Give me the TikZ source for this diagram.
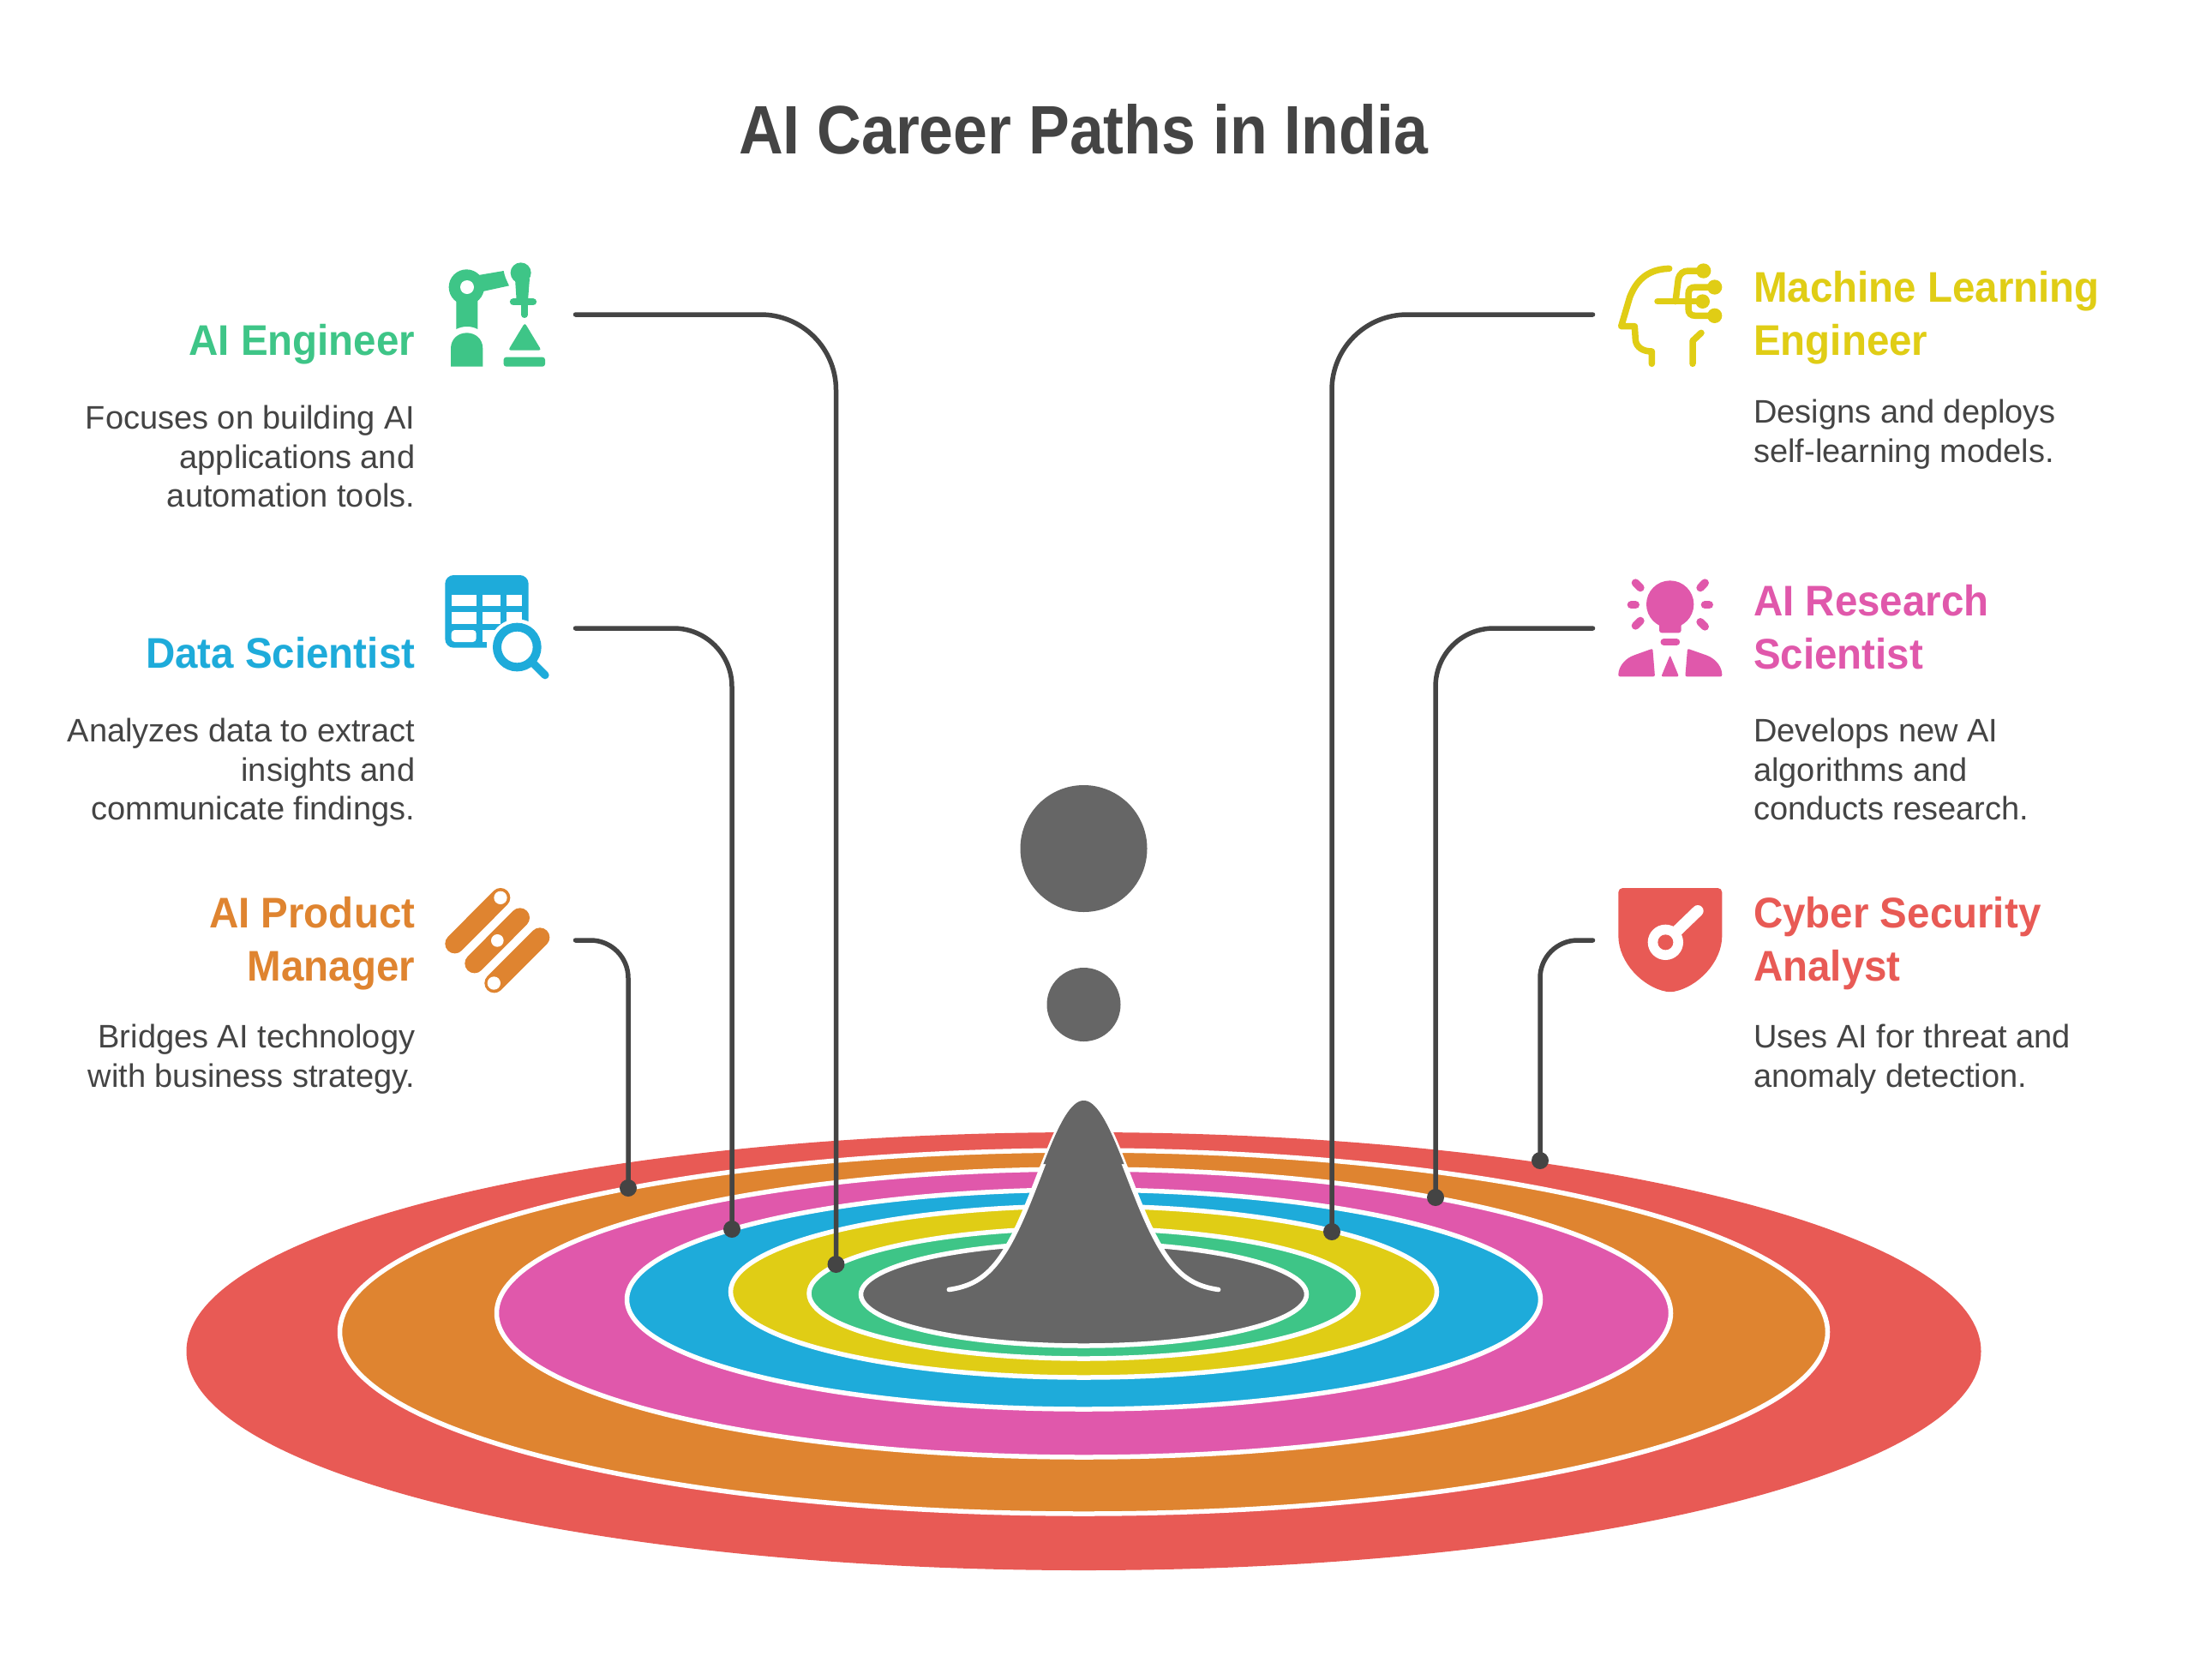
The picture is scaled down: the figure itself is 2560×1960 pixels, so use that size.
\documentclass[tikz,border=0pt]{standalone}
\usepackage{fontspec}
\setmainfont{Liberation Sans}
\newfontfamily\headfont[FakeStretch=0.95]{Liberation Sans}
\newfontfamily\titlefont[FakeStretch=0.895]{Liberation Sans}
\definecolor{cred}{HTML}{E85A55}
\definecolor{corange}{HTML}{DF8430}
\definecolor{cpink}{HTML}{E058AB}
\definecolor{cblue}{HTML}{1EABDA}
\definecolor{cyellow}{HTML}{E0CD15}
\definecolor{cgreen}{HTML}{3EC587}
\definecolor{cgray}{HTML}{666666}
\definecolor{cdark}{HTML}{444444}
\tikzset{
  ring/.style={fill=#1,draw=white,line width=5.5pt},
  conn/.style={draw=cdark,line width=5.5pt,line cap=round},
  dotnode/.style={circle,fill=cdark,minimum size=20pt,inner sep=0pt},
  headl/.style={font=\fontsize{50}{62}\selectfont\headfont\bfseries,align=right,anchor=north east,inner sep=0pt,text=#1,execute at begin node={\rule{0pt}{50pt}}},
  headr/.style={font=\fontsize{50}{62}\selectfont\headfont\bfseries,align=left,anchor=north west,inner sep=0pt,text=#1,execute at begin node={\rule{0pt}{50pt}}},
  bodyl/.style={font=\fontsize{38}{45.5}\selectfont,align=right,anchor=north east,inner sep=0pt,text=cdark,execute at begin node={\rule{0pt}{40pt}}},
  bodyr/.style={font=\fontsize{38}{45.5}\selectfont,align=left,anchor=north west,inner sep=0pt,text=cdark,execute at begin node={\rule{0pt}{40pt}}},
  icon/.style={x=0.33333pt,y=-0.33333pt}
}
\begin{document}
\begin{tikzpicture}[x=1pt,y=-1pt]
\useasboundingbox[fill=white] (0,0) rectangle (2560,1960);
% rings
\fill[cred] (1264.5,1576.5) ellipse [x radius=1047,y radius=255.5];
\draw[ring=corange] (1264.5,1554) ellipse [x radius=868,y radius=212];
\draw[ring=cpink] (1264.5,1532) ellipse [x radius=685,y radius=168];
\draw[ring=cblue] (1264.5,1516) ellipse [x radius=533,y radius=128];
\draw[ring=cyellow] (1264.5,1507) ellipse [x radius=412,y radius=100];
\draw[ring=cgreen] (1264.5,1509) ellipse [x radius=320.5,y radius=76];
\draw[ring=cgray] (1264.5,1510) ellipse [x radius=260,y radius=60];
% bell
\fill[cgray] plot[domain=-3:3,samples=90,smooth] ({1264.5+52.4*\x},{1507-223*exp(-\x*\x/2)});
\draw[white,line width=5.5pt,line cap=round] plot[domain=-3:3,samples=90,smooth] ({1264.5+52.4*\x},{1507-223*exp(-\x*\x/2)});
\fill[cgray] plot[domain=-0.9:0.9,samples=40,smooth] ({1264.5+52.4*\x},{1507-223*exp(-\x*\x/2)});
% drops
\node[circle,fill=cgray,minimum size=148pt,inner sep=0pt] (drop1) at (1264.5,990) {};
\node[circle,fill=cgray,minimum size=86pt,inner sep=0pt] (drop2) at (1264.5,1172) {};
% title
\node[font=\fontsize{80}{90}\selectfont\titlefont\bfseries,text=cdark,anchor=base,inner sep=0pt] (title) at (1264,179.5) {AI Career Paths in India};
% connector ends
\coordinate (s1) at (671.5,367);
\coordinate (s2) at (671.5,733);
\coordinate (s3) at (671.5,1097);
\coordinate (s4) at (1858.5,367);
\coordinate (s5) at (1858.5,733);
\coordinate (s6) at (1858.5,1097);
\node[dotnode] (d1) at (975.5,1475) {};
\node[dotnode] (d2) at (854,1434) {};
\node[dotnode] (d3) at (733,1386) {};
\node[dotnode] (d4) at (1554,1437) {};
\node[dotnode] (d5) at (1675,1397) {};
\node[dotnode] (d6) at (1797,1354) {};
\draw[conn,rounded corners=88pt] (s1) -| (d1.center);
\draw[conn,rounded corners=68pt] (s2) -| (d2.center);
\draw[conn,rounded corners=44pt] (s3) -| (d3.center);
\draw[conn,rounded corners=88pt] (s4) -| (d4.center);
\draw[conn,rounded corners=68pt] (s5) -| (d5.center);
\draw[conn,rounded corners=44pt] (s6) -| (d6.center);
% left text
\node[headl=cgreen] (h1) at (484.5,364) {AI Engineer};
\node[bodyl] (b1) at (484.5,473) {Focuses on building AI\\applications and\\automation tools.};
\node[headl=cblue] (h2) at (484.5,729) {Data Scientist};
\node[bodyl] (b2) at (484.5,838) {Analyzes data to extract\\insights and\\communicate findings.};
\node[headl=corange] (h3) at (484.5,1046) {AI Product\\Manager};
\node[bodyl] (b3) at (484.5,1195) {Bridges AI technology\\with business strategy.};
% right text
\node[headr=cyellow] (h4) at (2046,316.5) {Machine Learning\\Engineer};
\node[bodyr] (b4) at (2046,466) {Designs and deploys\\self-learning models.};
\node[headr=cpink] (h5) at (2046,682) {AI Research\\Scientist};
\node[bodyr] (b5) at (2046,838) {Develops new AI\\algorithms and\\conducts research.};
\node[headr=cred] (h6) at (2046,1046) {Cyber Security\\Analyst};
\node[bodyr] (b6) at (2046,1195) {Uses AI for threat and\\anomaly detection.};
% robot icon
\begin{scope}[shift={(500,290)},icon]
\fill[cgreen] (175,93) -- (263,78) .. controls (268,100) .. (282,130) -- (190,150) -- cycle;
\fill[cgreen] (97,170) -- (97,282) .. controls (120,270) and (150,270) .. (172,282) -- (172,170) -- cycle;
\fill[cgreen] (133,135) circle [radius=62];
\fill[white] (135,135) circle [radius=24];
\fill[cgreen] (78,413) -- (78,350) .. controls (78,315) and (105,295) .. (134,295) .. controls (163,295) and (190,315) .. (190,350) -- (190,413) -- cycle;
\fill[cgreen] (323,85) circle [radius=36];
\fill[cgreen] (303,105) -- (308,182) -- (348,182) -- (354,105) -- cycle;
\draw[cgreen,line width=8.3pt,line cap=round] (297,187) -- (366,187);
\draw[cgreen,line width=7.3pt,line cap=round] (336,190) -- (336,232);
\fill[cgreen,rounded corners=3pt] (337,260) -- (395,356) -- (279,356) -- cycle;
\fill[cgreen,rounded corners=3pt] (263,380) rectangle (408,413);
\end{scope}
% table icon
\begin{scope}[shift={(500,655)},icon]
\fill[cblue,rounded corners=10pt] (58,48) rectangle (350,302);
\fill[white] (80,117) rectangle (167,157);
\fill[white] (190,117) rectangle (252,157);
\fill[white] (273,117) rectangle (328,157);
\fill[white] (80,178) rectangle (167,218);
\fill[white] (190,178) rectangle (252,218);
\fill[white] (273,178) rectangle (328,218);
\fill[white,rounded corners=4pt] (80,240) rectangle (167,282);
\fill[white] (190,240) rectangle (252,282);
\fill[white] (310,300) circle [radius=98];
\fill[white] (205,282) rectangle (260,310);
\draw[cblue,line width=10pt] (310,300) circle [radius=70];
\draw[cblue,line width=9.3pt,line cap=round] (368,358) -- (408,398);
\end{scope}
% capsule icon
\begin{scope}[shift={(500,1020)},icon]
\draw[corange,line width=22.7pt,line cap=round] (92,243) -- (252,82);
\draw[corange,line width=22.7pt,line cap=round] (161,312) -- (320,152);
\draw[corange,line width=22.7pt,line cap=round] (230,381) -- (390,221);
\fill[white] (252,82) circle [radius=23];
\fill[white] (241,232) circle [radius=22];
\fill[white] (229,381) circle [radius=23];
\end{scope}
% head icon
\begin{scope}[shift={(1870,290)},icon]
\draw[cyellow,line width=7.5pt,line cap=round,line join=round] (233,70) .. controls (150,72) and (115,120) .. (95,170) -- (65,272) -- (112,272) -- (115,320) .. controls (118,345) and (140,360) .. (172,360) -- (172,403);
\draw[cyellow,line width=7.5pt,line cap=round,line join=round] (315,403) -- (315,323) -- (345,295);
\draw[cyellow,line width=7.5pt,line cap=round] (192,185) -- (350,185);
\draw[cyellow,line width=7.5pt,line cap=round] (255,185) -- (265,105) .. controls (270,88) and (282,78) .. (300,78) -- (353,78);
\draw[cyellow,line width=7.5pt,line cap=round] (392,135) -- (325,135) .. controls (308,135) and (300,143) .. (300,160) -- (300,210) .. controls (300,227) and (308,235) .. (325,235) -- (392,235);
\fill[cyellow] (353,78) circle [radius=26];
\fill[cyellow] (392,135) circle [radius=26];
\fill[cyellow] (350,185) circle [radius=25];
\fill[cyellow] (392,235) circle [radius=26];
\end{scope}
% bulb person icon
\begin{scope}[shift={(1870,655)},icon]
\fill[cpink] (236,150) circle [radius=83];
\fill[cpink,rounded corners=3pt] (190,215) -- (198,215) -- (198,250) -- (275,250) -- (275,215) -- (282,215) -- cycle;
\draw[cpink,line width=7.7pt,line cap=round] (214,282) -- (259,282);
\foreach \a/\b/\c/\d in {115/75/132/92, 100/152/115/152, 115/225/132/208, 358/75/342/92, 358/152/373/152, 342/212/358/228}
  \draw[cpink,line width=9.3pt,line cap=round] (\a,\b) -- (\c,\d);
\fill[cpink,rounded corners=2pt] (55,403) .. controls (55,370) and (75,345) .. (105,330) -- (175,305) -- (183,403) -- cycle;
\fill[cpink,rounded corners=2pt] (418,403) .. controls (418,370) and (398,345) .. (368,330) -- (297,305) -- (289,403) -- cycle;
\fill[cpink,rounded corners=2pt] (236,328) -- (267,403) -- (205,403) -- cycle;
\end{scope}
% shield icon
\begin{scope}[shift={(1870,1020)},icon]
\fill[cred,rounded corners=5pt] (55,48) -- (418,48) -- (418,200) .. controls (418,310) and (330,395) .. (236,413) .. controls (142,395) and (55,310) .. (55,200) -- cycle;
\draw[white,line width=13.3pt,line cap=round] (250,208) -- (333,128);
\fill[white] (220,238) circle [radius=62];
\fill[cred] (220,238) circle [radius=27];
\end{scope}
\end{tikzpicture}
\end{document}
